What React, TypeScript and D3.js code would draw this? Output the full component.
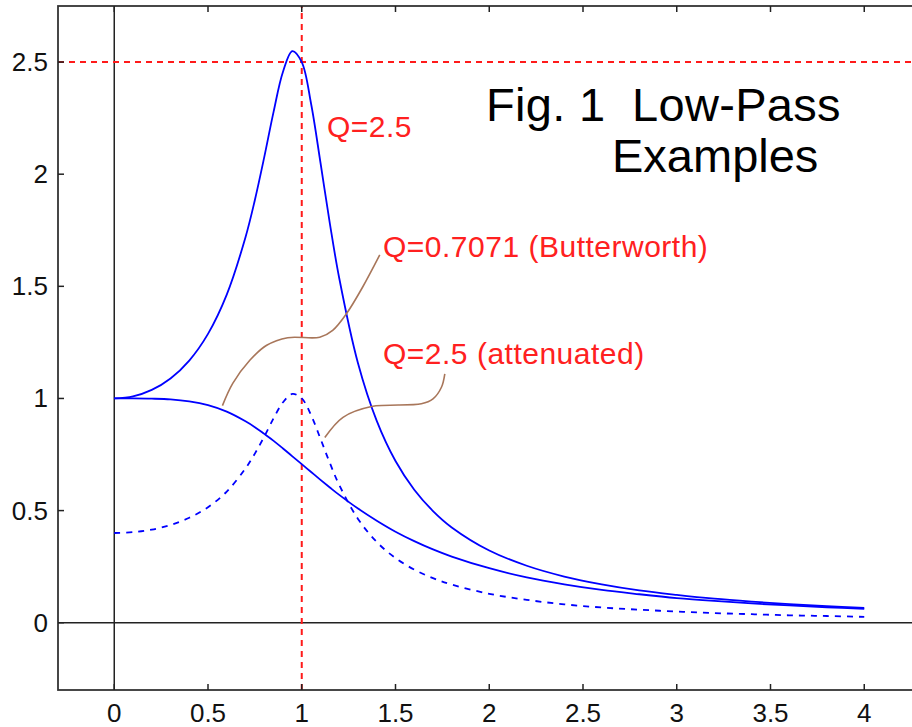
import React from 'react';
import * as d3 from 'd3';

// normalised frequency (w / w0)
const freq = [0, 0.1, 0.2, 0.3, 0.4, 0.5, 0.6, 0.7, 0.75, 0.8, 0.85, 0.9, 0.95, 1.0, 1.05, 1.1, 1.15, 1.2, 1.3, 1.4, 1.5, 1.6, 1.7, 1.8, 2.0, 2.2, 2.4, 2.6, 2.8, 3.0, 3.2, 3.4, 3.6, 3.8, 4.0];

// gain
const gainQ25 = [1.0, 1.009, 1.038, 1.089, 1.169, 1.288, 1.463, 1.719, 1.885, 2.076, 2.279, 2.457, 2.549, 2.5, 2.313, 2.051, 1.78, 1.536, 1.157, 0.9, 0.721, 0.593, 0.498, 0.425, 0.322, 0.254, 0.206, 0.171, 0.144, 0.124, 0.107, 0.094, 0.083, 0.074, 0.066];
const gainButter = [1.0, 1.0, 0.999, 0.996, 0.987, 0.97, 0.941, 0.898, 0.872, 0.842, 0.811, 0.777, 0.742, 0.707, 0.672, 0.637, 0.603, 0.57, 0.509, 0.455, 0.406, 0.364, 0.327, 0.295, 0.243, 0.202, 0.171, 0.146, 0.127, 0.11, 0.097, 0.086, 0.077, 0.069, 0.062];
const gainAtten = [0.4, 0.404, 0.415, 0.436, 0.468, 0.515, 0.585, 0.688, 0.754, 0.83, 0.912, 0.983, 1.02, 1.0, 0.925, 0.82, 0.712, 0.614, 0.463, 0.36, 0.288, 0.237, 0.199, 0.17, 0.129, 0.102, 0.082, 0.068, 0.058, 0.05, 0.043, 0.038, 0.033, 0.03, 0.026];

const xTicks = [0, 0.5, 1, 1.5, 2, 2.5, 3, 3.5, 4];
const yTicks = [0, 0.5, 1, 1.5, 2, 2.5];

// leader lines (data units)
const leaderButter: [number, number][] = [[0.577, 0.968], [0.632, 1.067], [0.723, 1.17], [0.813, 1.237], [0.925, 1.271], [1.096, 1.273], [1.165, 1.304], [1.24, 1.38], [1.325, 1.497], [1.416, 1.64]];
const leaderAtten: [number, number][] = [[1.123, 0.826], [1.22, 0.916], [1.372, 0.964], [1.638, 0.976], [1.7, 0.998], [1.745, 1.05], [1.763, 1.11]];

const W = 912, H = 727;
const font = '"Liberation Sans", Arial, sans-serif';

export default function App() {
  const x = d3.scaleLinear().domain([-0.3, 4.3]).range([58, 920.5]);
  const y = d3.scaleLinear().domain([-0.3, 2.75]).range([690, 6]);

  const curve = (vals: number[]) =>
    d3.line<number>()
      .x((_, i) => x(freq[i]))
      .y(d => y(d))
      .curve(d3.curveCatmullRom)(vals) || '';

  const leader = d3.line<[number, number]>()
    .x(d => x(d[0]))
    .y(d => y(d[1]))
    .curve(d3.curveCatmullRom);

  const [x0, x1] = x.range();
  const [y0, y1] = y.range();

  return (
    <svg width={W} height={H} style={{ position: 'absolute', left: 0, top: 0, background: '#fff' }} fontFamily={font}>
      {/* zero lines */}
      <line x1={x0} x2={x1} y1={y(0)} y2={y(0)} stroke="#222" strokeWidth={1.5} />
      <line x1={x(0)} x2={x(0)} y1={y0} y2={y1} stroke="#222" strokeWidth={1.5} />

      {/* reference lines */}
      <line x1={x0} x2={x1} y1={y(2.5)} y2={y(2.5)} stroke="#ff1a1a" strokeWidth={2} strokeDasharray="6,5" />
      <line x1={x(1)} x2={x(1)} y1={y0} y2={y1} stroke="#ff1a1a" strokeWidth={2} strokeDasharray="6,5" />

      {/* curves */}
      <path d={curve(gainQ25)} fill="none" stroke="#0000ff" strokeWidth={1.8} />
      <path d={curve(gainButter)} fill="none" stroke="#0000ff" strokeWidth={1.8} />
      <path d={curve(gainAtten)} fill="none" stroke="#0000ff" strokeWidth={1.8} strokeDasharray="6,6" />

      {/* leaders */}
      <path d={leader(leaderButter) || ''} fill="none" stroke="#a8765a" strokeWidth={1.6} />
      <path d={leader(leaderAtten) || ''} fill="none" stroke="#a8765a" strokeWidth={1.6} />

      {/* frame */}
      <rect x={x0} y={y1} width={x1 - x0} height={y0 - y1} fill="none" stroke="#333" strokeWidth={1.8} />

      {/* ticks */}
      {xTicks.map(t => (
        <g key={'x' + t}>
          <line x1={x(t)} x2={x(t)} y1={y0} y2={y0 - 6} stroke="#222" strokeWidth={1.5} />
          <line x1={x(t)} x2={x(t)} y1={y1} y2={y1 + 6} stroke="#222" strokeWidth={1.5} />
          <text x={x(t)} y={722} textAnchor="middle" fontSize={26} fill="#111">{t}</text>
        </g>
      ))}
      {yTicks.map(t => (
        <g key={'y' + t}>
          <line x1={x0} x2={x0 + 6} y1={y(t)} y2={y(t)} stroke="#222" strokeWidth={1.5} />
          <text x={48} y={y(t) + 9} textAnchor="end" fontSize={26} fill="#111">{t}</text>
        </g>
      ))}

      {/* labels */}
      <g fontSize={30} fill="#ff2020" letterSpacing={0.5}>
        <text x={327} y={137}>Q=2.5</text>
        <text x={383} y={257}>Q=0.7071 (Butterworth)</text>
        <text x={383} y={364}>Q=2.5 (attenuated)</text>
      </g>

      <text x={486} y={121} fontSize={47} fill="#000" letterSpacing={0.3} style={{ whiteSpace: 'pre' }}>Fig. 1  Low-Pass</text>
      <text x={612} y={172} fontSize={47} fill="#000">Examples</text>
    </svg>
  );
}
